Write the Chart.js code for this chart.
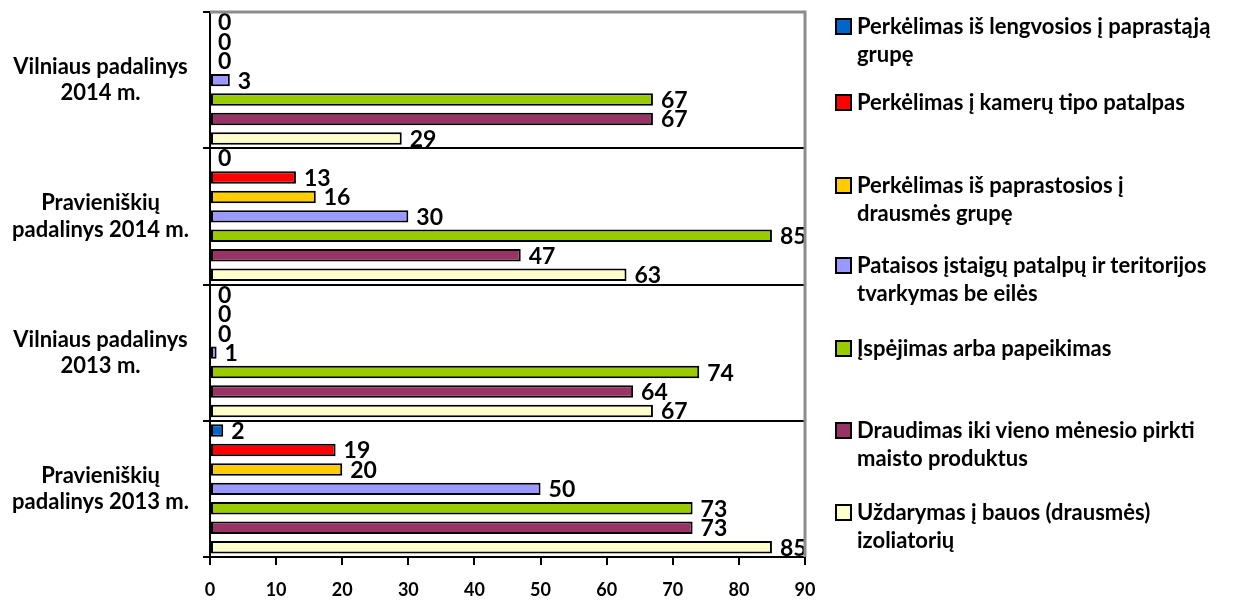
<!DOCTYPE html>
<html>
<head>
<meta charset="utf-8">
<script src="https://cdn.jsdelivr.net/npm/chart.js@4/dist/chart.umd.min.js"></script>
<style>
  body { margin: 0; background: #fff; }
  .wrap { position: relative; width: 1235px; height: 605px; }
  .legend { position: absolute; left: 835px; top: 0; font-family: Lato, sans-serif; font-weight: bold; font-size: 22px; color: #000; }
  .legend-item { position: absolute; left: 0; width: 362px; line-height: 28px; padding-left: 22px; }
  .legend-box { position: absolute; left: 0; top: 6px; width: 13px; height: 13px; border: 2px solid #000; }
</style>
</head>
<body>
<div class="wrap">
  <canvas id="myChart" width="1235" height="605"></canvas>
  <div class="legend" id="legend"></div>
</div>
<script>
/* ======================================
        DATA
========================================*/
const categories = [
  ['Vilniaus padalinys', '2014 m.'],
  ['Pravieniškių', 'padalinys 2014 m.'],
  ['Vilniaus padalinys', '2013 m.'],
  ['Pravieniškių', 'padalinys 2013 m.']
];
const seriesNames = [
  'Perkėlimas iš lengvosios į paprastąją grupę',
  'Perkėlimas į  kamerų tipo patalpas',
  'Perkėlimas iš paprastosios į drausmės grupę',
  'Pataisos įstaigų patalpų ir teritorijos tvarkymas be eilės',
  'Įspėjimas arba papeikimas',
  'Draudimas iki vieno mėnesio pirkti maisto produktus',
  'Uždarymas į bauos (drausmės) izoliatorių'
];
const perkelimasLengvosios = [0, 0, 0, 2];
const perkelimasKameru = [0, 13, 0, 19];
const perkelimasDrausmes = [0, 16, 0, 20];
const tvarkymas = [3, 30, 1, 50];
const ispejimas = [67, 85, 74, 73];
const draudimas = [67, 47, 64, 73];
const uzdarymas = [29, 63, 67, 85];
const xTicks = [0, 10, 20, 30, 40, 50, 60, 70, 80, 90];

const colors = ['#0066CC', '#FF0000', '#FFCC00', '#9999FF', '#99CC00', '#993366', '#FFFFCC'];
const allSeries = [perkelimasLengvosios, perkelimasKameru, perkelimasDrausmes, tvarkymas, ispejimas, draudimas, uzdarymas];

/* ======================================
        PLUGINS
========================================*/
// value labels next to the bars
const valueLabels = {
  id: 'valueLabels',
  afterDatasetsDraw(chart) {
    const ctx = chart.ctx;
    ctx.save();
    ctx.font = 'bold 23px Lato, sans-serif';
    ctx.fillStyle = '#000';
    ctx.textBaseline = 'middle';
    ctx.textAlign = 'left';
    chart.data.datasets.forEach((ds, i) => {
      const meta = chart.getDatasetMeta(i);
      meta.data.forEach((bar, j) => {
        ctx.fillText(ds.data[j], bar.x + 8, bar.y + 1);
      });
    });
    ctx.restore();
  }
};

// gray top / right frame
const frame = {
  id: 'frame',
  afterDraw(chart) {
    const a = chart.chartArea;
    const ctx = chart.ctx;
    ctx.save();
    ctx.strokeStyle = '#8c8c8c';
    ctx.lineWidth = 3;
    ctx.beginPath();
    ctx.moveTo(a.left, a.top);
    ctx.lineTo(a.right, a.top);
    ctx.lineTo(a.right, a.bottom);
    ctx.stroke();
    ctx.restore();
  }
};

/* ======================================
        CHART
========================================*/
Chart.defaults.font.family = 'Lato, sans-serif';
Chart.defaults.color = '#000';

let myChart = document.getElementById('myChart').getContext('2d');
let barChart = new Chart(myChart, {
  type: 'bar',
  data: {
    labels: categories,
    datasets: allSeries.map((d, i) => ({
      label: seriesNames[i],
      data: d,
      backgroundColor: colors[i],
      borderColor: '#000',
      borderWidth: c => (c.raw === 0 ? 0 : 2),
      borderSkipped: false,
      categoryPercentage: 1.0,
      barPercentage: 0.64
    }))
  },
  options: {
    indexAxis: 'y',
    responsive: false,
    animation: false,
    layout: { padding: { top: 12, right: 430, left: 0, bottom: 0 } },
    plugins: {
      legend: { display: false },
      tooltip: { enabled: false }
    },
    scales: {
      x: {
        min: 0,
        max: 90,
        afterBuildTicks: s => { s.ticks = xTicks.map(v => ({ value: v })); },
        afterFit: s => { s.height = 48; },
        border: { color: '#000', width: 2 },
        grid: { drawOnChartArea: false, drawTicks: true, tickLength: 8, color: '#000', lineWidth: 2 },
        ticks: { font: { size: 18, weight: 'bold' }, padding: 14 }
      },
      y: {
        afterFit: s => { s.width = 210; s.paddingTop = 0; s.paddingBottom = 0; },
        border: { color: '#000', width: 2 },
        grid: { color: '#000', lineWidth: 2, tickLength: 7, offset: true },
        ticks: { font: { size: 22, weight: 'bold' }, crossAlign: 'center', padding: 14, lineHeight: 1.1 }
      }
    }
  },
  plugins: [valueLabels, frame]
});

/* ======================================
        LEGEND
========================================*/
const legendTops = [12, 88, 171, 251, 334, 416, 498];
const legendEl = document.getElementById('legend');
seriesNames.forEach((name, i) => {
  const item = document.createElement('div');
  item.className = 'legend-item';
  item.style.top = legendTops[i] + 'px';
  const box = document.createElement('span');
  box.className = 'legend-box';
  box.style.backgroundColor = colors[i];
  item.appendChild(box);
  item.appendChild(document.createTextNode(name));
  legendEl.appendChild(item);
});
</script>
</body>
</html>
